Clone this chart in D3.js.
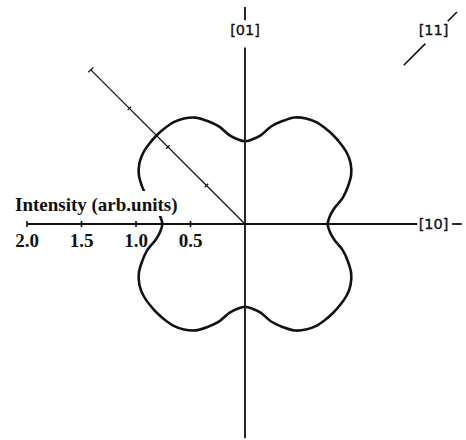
<!DOCTYPE html>
<html>
<head>
<meta charset="utf-8">
<script src="https://cdn.jsdelivr.net/npm/d3@7"></script>
<style>
  body { margin: 0; background: #fff; }
  svg { display: block; }
</style>
</head>
<body>
<svg id="chart" width="466" height="440"></svg>
<script>
// In-plane direction (degrees, counter-clockwise from [10]) and measured intensity
const angleDeg = [
  0, 5, 10, 15, 20, 25, 30, 35, 40, 45, 50, 55, 60, 65, 70, 75, 80, 85,
  90, 95, 100, 105, 110, 115, 120, 125, 130, 135, 140, 145, 150, 155, 160, 165, 170, 175,
  180, 185, 190, 195, 200, 205, 210, 215, 220, 225, 230, 235, 240, 245, 250, 255, 260, 265,
  270, 275, 280, 285, 290, 295, 300, 305, 310, 315, 320, 325, 330, 335, 340, 345, 350, 355
];
const intensity = [
  0.758, 0.78, 0.832, 0.928, 1.005, 1.075, 1.118, 1.14, 1.146, 1.148, 1.146, 1.14, 1.118, 1.078, 1.005, 0.926, 0.825, 0.78,
  0.759, 0.78, 0.828, 0.927, 1.005, 1.077, 1.118, 1.14, 1.146, 1.148, 1.146, 1.14, 1.118, 1.075, 1.005, 0.928, 0.832, 0.78,
  0.758, 0.78, 0.832, 0.928, 1.005, 1.075, 1.118, 1.14, 1.146, 1.148, 1.146, 1.14, 1.118, 1.077, 1.005, 0.927, 0.828, 0.78,
  0.759, 0.78, 0.826, 0.926, 1.005, 1.078, 1.118, 1.14, 1.146, 1.148, 1.146, 1.14, 1.118, 1.075, 1.005, 0.928, 0.832, 0.78
];

// Intensity scale ticks
const tickValues = [0.5, 1.0, 1.5, 2.0];
const tickLabels = ["0.5", "1.0", "1.5", "2.0"];

// Crystal direction labels
const dirLabel10 = "[10]";
const dirLabel01 = "[01]";
const dirLabel11 = "[11]";
const axisTitle = "Intensity (arb.units)";

const svg = d3.select("#chart");
const cx = 245, cy = 224;
const ink = "#111";

// Radial intensity scale (shared by every axis and by the curve)
const r = d3.scaleLinear().domain([0, 2]).range([0, 218]);

const g = svg.append("g").attr("transform", `translate(${cx},${cy})`);

// ---- [10] axis (horizontal) with the intensity ticks on its left arm
g.append("line")
  .attr("x1", -r(2)).attr("x2", r(1.58))
  .attr("y1", 0).attr("y2", 0)
  .attr("stroke", ink).attr("stroke-width", 1.8);
g.append("line")
  .attr("x1", r(1.9)).attr("x2", r(1.99))
  .attr("y1", 0).attr("y2", 0)
  .attr("stroke", ink).attr("stroke-width", 1.8);

const hx = v => -r(v);
g.selectAll("line.htick").data(tickValues).join("line")
  .attr("class", "htick")
  .attr("x1", hx).attr("x2", hx)
  .attr("y1", -3).attr("y2", 3)
  .attr("stroke", ink).attr("stroke-width", 1.6);
g.selectAll("text.hlabel").data(tickValues).join("text")
  .attr("class", "hlabel")
  .attr("x", hx)
  .attr("y", 23)
  .attr("text-anchor", "middle")
  .attr("font-family", "'Liberation Serif', serif")
  .attr("font-weight", "bold")
  .attr("font-size", 19)
  .attr("fill", ink)
  .text((d, i) => tickLabels[i]);

// ---- [01] axis (vertical)
g.append("line")
  .attr("x1", 0).attr("x2", 0)
  .attr("y1", -r(1.99)).attr("y2", -r(1.87))
  .attr("stroke", ink).attr("stroke-width", 1.8);
g.append("line")
  .attr("x1", 0).attr("x2", 0)
  .attr("y1", -r(1.62)).attr("y2", r(1.965))
  .attr("stroke", ink).attr("stroke-width", 1.8);

// ---- [11] direction marks along the 45° diagonal
const diag = g.append("g").attr("transform", "rotate(-45)");
[[2.06, 2.34], [2.63, 2.75]].forEach(([a, b]) => {
  diag.append("line")
    .attr("x1", r(a)).attr("x2", r(b))
    .attr("y1", 0).attr("y2", 0)
    .attr("stroke", ink).attr("stroke-width", 1.6);
});

// ---- Tilted intensity axis toward the upper left
const tilt = g.append("g").attr("transform", "rotate(-135)");
tilt.append("line")
  .attr("x1", 0).attr("x2", r(2))
  .attr("y1", 0).attr("y2", 0)
  .attr("stroke", ink).attr("stroke-width", 1.3);
tilt.selectAll("line.dtick").data(tickValues).join("line")
  .attr("class", "dtick")
  .attr("x1", d => r(d)).attr("x2", d => r(d))
  .attr("y1", d => d === 2 ? -3.5 : -2.5)
  .attr("y2", d => d === 2 ? 3.5 : 2.5)
  .attr("stroke", ink).attr("stroke-width", 1.3);

// ---- Polar intensity curve
const pts = angleDeg.map((a, i) => ({ a, v: intensity[i] }));
const radial = d3.lineRadial()
  .angle(d => (90 - d.a) * Math.PI / 180)
  .radius(d => r(d.v))
  .curve(d3.curveCatmullRomClosed.alpha(0.5));
g.append("path")
  .attr("d", radial(pts))
  .attr("fill", "none")
  .attr("stroke", ink)
  .attr("stroke-width", 2.6)
  .attr("stroke-linejoin", "round");

// ---- Axis title on a white backing
const titleG = svg.append("g");
const titleText = titleG.append("text")
  .attr("x", 15)
  .attr("y", 211)
  .attr("font-family", "'Liberation Serif', serif")
  .attr("font-weight", "bold")
  .attr("font-size", 19)
  .attr("fill", ink)
  .text(axisTitle);
const bb = titleText.node().getBBox();
titleG.insert("rect", "text")
  .attr("x", bb.x - 2).attr("y", bb.y - 3)
  .attr("width", bb.width + 4).attr("height", bb.height + 3)
  .attr("fill", "#fff");

// ---- Direction labels
const dirFont = "'DejaVu Sans', sans-serif";
function dirText(x, y, s) {
  g.append("text")
    .attr("x", x).attr("y", y)
    .attr("text-anchor", "middle")
    .attr("dominant-baseline", "central")
    .attr("font-family", dirFont)
    .attr("font-size", 14.5)
    .attr("fill", ink)
    .attr("stroke", ink)
    .attr("stroke-width", 0.35)
    .text(s);
}
dirText(r(1.73), 0, dirLabel10);
dirText(0, -r(1.78), dirLabel01);
dirText(r(1.73), -r(1.78), dirLabel11);
</script>
</body>
</html>
